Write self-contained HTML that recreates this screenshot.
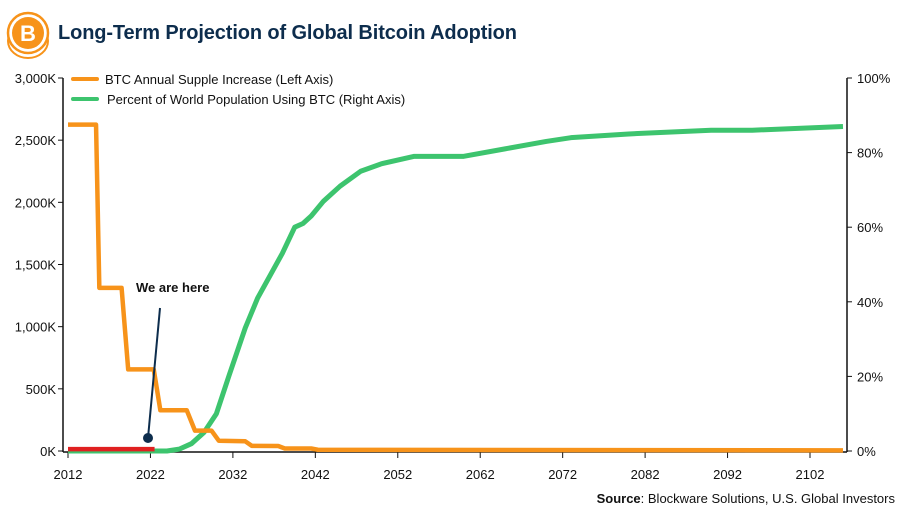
<!DOCTYPE html>
<html><head><meta charset="utf-8"><style>
body{margin:0;width:900px;height:512px;background:#fff;overflow:hidden;font-family:"Liberation Sans",sans-serif}
</style></head><body>
<svg width="900" height="512" viewBox="0 0 900 512" xmlns="http://www.w3.org/2000/svg">
<g>
<ellipse cx="28" cy="41" rx="20" ry="17" fill="#fff" stroke="#f7931a" stroke-width="2"/>
<circle cx="28" cy="33" r="20" fill="#fff" stroke="#f7931a" stroke-width="2.5"/>
<circle cx="28" cy="33" r="16" fill="#f7931a"/>
<text x="28" y="41" font-size="22" font-weight="bold" fill="#fff" text-anchor="middle">B</text>
</g>
<text x="58" y="39" font-size="20" font-weight="bold" fill="#0d2d4d" textLength="459">Long-Term Projection of Global Bitcoin Adoption</text>
<g>
<line x1="73" y1="79" x2="97" y2="79" stroke="#f7931a" stroke-width="4" stroke-linecap="round"/>
<text x="105" y="84" font-size="13" fill="#111">BTC Annual Supple Increase (Left Axis)</text>
<line x1="73" y1="99" x2="97" y2="99" stroke="#3dc46e" stroke-width="4" stroke-linecap="round"/>
<text x="107" y="104" font-size="13" fill="#111">Percent of World Population Using BTC (Right Axis)</text>
</g>
<g id="axes"></g>
<g id="marks"></g>
<g>
<line x1="148" y1="438" x2="160" y2="308" stroke="#0d2d4d" stroke-width="2"/>
<circle cx="148" cy="438" r="5" fill="#0d2d4d"/>
<text x="136" y="292" font-size="13" font-weight="bold" fill="#111">We are here</text>
</g>
<text x="895" y="503" font-size="13" fill="#111" text-anchor="end"><tspan font-weight="bold">Source</tspan>: Blockware Solutions, U.S. Global Investors</text>
</svg>
<script>
const xTicks=[2012,2022,2032,2042,2052,2062,2072,2082,2092,2102];
const yLeftTicks=[0,500,1000,1500,2000,2500,3000];
const yLeftLabels=["0K","500K","1,000K","1,500K","2,000K","2,500K","3,000K"];
const yRightTicks=[0,20,40,60,80,100];
const supplyYears=[2012,2015.4,2015.8,2018.5,2019.3,2022.4,2023.2,2026.4,2027.4,2029.4,2030.3,2033.5,2034.3,2037.5,2038.3,2041.5,2042.3,2106];
const supplyVals=[2625,2625,1312,1312,656,656,328,328,164,164,82,78,41,40,20,20,10,5];
const adoptYears=[2012,2022.5,2024,2025.5,2027,2028.5,2030,2031.5,2033.5,2035,2036.5,2038,2039.5,2040.5,2041.5,2043,2045,2047.5,2050,2054,2056,2060,2065,2070,2073,2080,2090,2095,2106];
const adoptVals=[0,0,0,0.5,2,5,10,20,33,41,47,53,60,61,63,67,71,75,77,79,79,79,81,83,84,85,86,86,87];
const redYears=[2012,2022.5];
const redVals=[0.5,0.5];
const NS="http://www.w3.org/2000/svg";
const X=y=>68+(y-2012)*(810-68)/90;
const YL=v=>451-v*(451-78)/3000;
const YR=v=>451-v*(451-78)/100;
const axes=document.getElementById('axes'),marks=document.getElementById('marks');
function el(t,a,p){const e=document.createElementNS(NS,t);for(const k in a)e.setAttribute(k,a[k]);p.appendChild(e);return e;}
let e=el('line',{x1:63,y1:78,x2:63,y2:452,stroke:'#111','stroke-width':1.5},axes);


e=el('line',{x1:847,y1:78,x2:847,y2:452,stroke:'#111','stroke-width':1.5},axes);


e=el('line',{x1:63,y1:452,x2:847,y2:452,stroke:'#111','stroke-width':1.5},axes);


yLeftTicks.forEach((v,i)=>{el('line',{x1:58,x2:63,y1:YL(v),y2:YL(v),stroke:'#111'},axes);
const t=el('text',{x:56,y:YL(v)+5,'font-size':13,'text-anchor':'end',fill:'#111'},axes);t.textContent=yLeftLabels[i];

});
yRightTicks.forEach(v=>{el('line',{x1:847,x2:852,y1:YR(v),y2:YR(v),stroke:'#111'},axes);
const t=el('text',{x:857,y:YR(v)+5,'font-size':13,fill:'#111'},axes);t.textContent=v+'%';

});
xTicks.forEach(v=>{el('line',{x1:X(v),x2:X(v),y1:452,y2:458,stroke:'#111'},axes);
const t=el('text',{x:X(v),y:479,'font-size':13,'text-anchor':'middle',fill:'#111'},axes);t.textContent=v;

});
function poly(xs,vs,f,c,w,name){const p=el('polyline',{points:xs.map((x,i)=>X(x)+','+f(vs[i])).join(' '),fill:'none',stroke:c,'stroke-width':w,'stroke-linejoin':'round'},marks);

}
poly(adoptYears,adoptVals,YR,'#3dc46e',5,'adoption-line');
poly(supplyYears,supplyVals,YL,'#f7931a',4.5,'supply-line');
poly(redYears,redVals,YR,'#e02020',4.5,'current-period-line');
</script>
</body></html>
